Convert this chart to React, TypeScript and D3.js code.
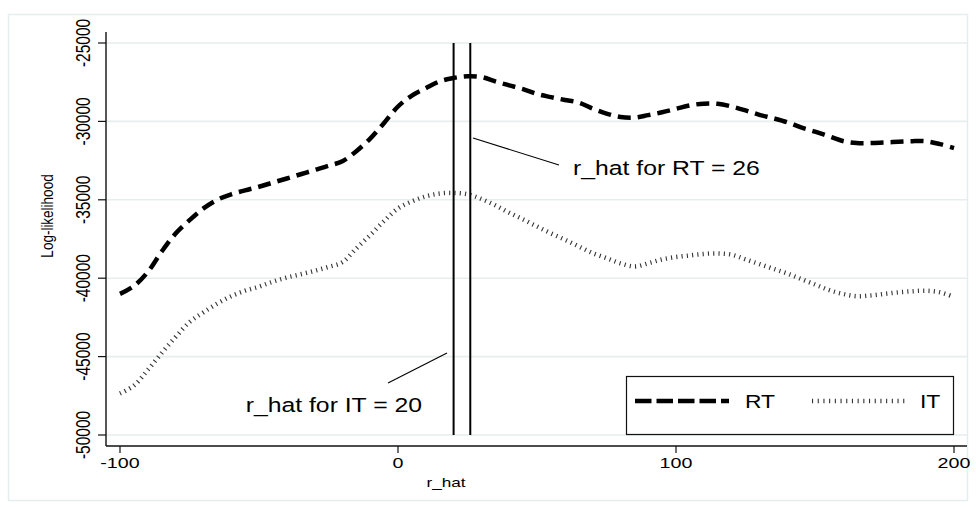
import * as d3 from "d3";
import { useEffect, useRef } from "react";

// r_hat grid and the two log-likelihood profiles
const rHat = [
  -100, -95, -90, -85, -80, -75, -70, -65, -60, -55, -50, -45, -40, -35, -30, -25, -20, -15, -10, -5,
  0, 5, 10, 15, 20, 25, 30, 35, 40, 45, 50, 55, 60, 65, 70, 75, 80, 85, 90, 95,
  100, 105, 110, 115, 120, 125, 130, 135, 140, 145, 150, 155, 160, 165, 170, 175, 180, 185, 190, 195, 200,
];

const rtLL = [
  -41000, -40500, -39600, -38300, -37150, -36300, -35550, -35000, -34650, -34400,
  -34170, -33900, -33640, -33370, -33100, -32830, -32540, -31900, -31100, -30100,
  -29050, -28350, -27880, -27450, -27230, -27120, -27170, -27450, -27700, -27940,
  -28250, -28450, -28630, -28800, -29180, -29500, -29720, -29760, -29600, -29420,
  -29200, -28980, -28870, -28880, -29050, -29300, -29580, -29800, -30050, -30380,
  -30650, -30950, -31250, -31380, -31380, -31340, -31300, -31260, -31270, -31450,
  -31700,
];

const itLL = [
  -47350, -46850, -45850, -44770, -43750, -42800, -42180, -41620, -41150, -40800,
  -40540, -40220, -39960, -39750, -39530, -39280, -38980, -38100, -37250, -36350,
  -35550, -35100, -34780, -34600, -34560, -34650, -34950, -35350, -35820, -36250,
  -36700, -37140, -37540, -37970, -38400, -38720, -39050, -39250, -39050, -38800,
  -38650, -38550, -38450, -38420, -38500, -38800, -39100, -39400, -39700, -40050,
  -40400, -40750, -41000, -41150, -41100, -41000, -40900, -40830, -40800, -40900,
  -41200,
];

const xTicks = [-100, 0, 100, 200];
const yTicks = [-25000, -30000, -35000, -40000, -45000, -50000];

const rtOpt = 26;
const itOpt = 20;

const FONT = "'Liberation Sans', Arial, Helvetica, sans-serif";
const SX = 1.27; // the picture is stretched sideways

export default function App() {
  const svgRef = useRef<SVGSVGElement>(null);

  useEffect(() => {
    const svg = d3.select(svgRef.current);
    svg.selectAll("*").remove();

    const width = 976;
    const height = 507;
    const plot = { left: 106, right: 967, top: 32, bottom: 446 };

    svg.attr("width", width).attr("height", height);

    const x = d3.scaleLinear().domain([-100, 200]).range([120, 954]);
    const y = d3.scaleLinear().domain([-50000, -25000]).range([435, 43]);

    const stretchText = (sel: any, tx: number, ty: number, rotate = false) =>
      sel.attr("transform", `translate(${tx},${ty}) scale(${SX},1)` + (rotate ? " rotate(-90)" : ""));

    // outer graph region border
    svg
      .append("rect")
      .attr("x", 8.5)
      .attr("y", 14.5)
      .attr("width", 959)
      .attr("height", 486)
      .attr("fill", "white")
      .attr("stroke", "#e5eeef")
      .attr("stroke-width", 1.5);

    // gridlines
    svg
      .append("g")
      .selectAll("line")
      .data(yTicks)
      .enter()
      .append("line")
      .attr("x1", plot.left)
      .attr("x2", plot.right)
      .attr("y1", d => y(d))
      .attr("y2", d => y(d))
      .attr("stroke", "#e6eeee")
      .attr("stroke-width", 1.6);

    // axes lines + ticks
    svg
      .append("line")
      .attr("x1", plot.left)
      .attr("x2", plot.left)
      .attr("y1", plot.top)
      .attr("y2", plot.bottom)
      .attr("stroke", "#111")
      .attr("stroke-width", 1.4);
    svg
      .append("line")
      .attr("x1", plot.left)
      .attr("x2", plot.right)
      .attr("y1", plot.bottom)
      .attr("y2", plot.bottom)
      .attr("stroke", "#111")
      .attr("stroke-width", 1.4);

    svg
      .append("g")
      .selectAll("line")
      .data(yTicks)
      .enter()
      .append("line")
      .attr("x1", plot.left - 8)
      .attr("x2", plot.left)
      .attr("y1", d => y(d))
      .attr("y2", d => y(d))
      .attr("stroke", "#111")
      .attr("stroke-width", 1.2);

    svg
      .append("g")
      .selectAll("line")
      .data(xTicks)
      .enter()
      .append("line")
      .attr("x1", d => x(d))
      .attr("x2", d => x(d))
      .attr("y1", plot.bottom)
      .attr("y2", plot.bottom + 7)
      .attr("stroke", "#111")
      .attr("stroke-width", 1.2);

    // tick labels (plain hyphen minus, as in Stata)
    svg
      .append("g")
      .selectAll("text")
      .data(yTicks)
      .enter()
      .append("text")
      .each(function (d) {
        stretchText(d3.select(this), 90, y(d), true);
      })
      .attr("text-anchor", "middle")
      .style("font-family", FONT)
      .style("font-size", "15.5px")
      .text(d => String(d));

    svg
      .append("g")
      .selectAll("text")
      .data(xTicks)
      .enter()
      .append("text")
      .each(function (d) {
        stretchText(d3.select(this), x(d), 467.5);
      })
      .attr("text-anchor", "middle")
      .style("font-family", FONT)
      .style("font-size", "15.5px")
      .text(d => String(d));

    // axis titles
    stretchText(svg.append("text"), 53, 216, true)
      .attr("text-anchor", "middle")
      .style("font-family", FONT)
      .style("font-size", "13.5px")
      .text("Log-likelihood");

    stretchText(svg.append("text"), 446, 487)
      .attr("text-anchor", "middle")
      .style("font-family", FONT)
      .style("font-size", "13.5px")
      .text("r_hat");

    // curves
    const line = d3
      .line<number>()
      .x((_, i) => x(rHat[i]))
      .y(d => y(d))
      .curve(d3.curveCatmullRom.alpha(0.5));

    svg
      .append("path")
      .attr("d", line(itLL))
      .attr("fill", "none")
      .attr("stroke", "#333")
      .attr("stroke-width", 4.5)
      .attr("stroke-dasharray", "1.1 4.2");

    svg
      .append("path")
      .attr("d", line(rtLL))
      .attr("fill", "none")
      .attr("stroke", "#000")
      .attr("stroke-width", 4.5)
      .attr("stroke-dasharray", "13 7");

    // optimum reference lines
    svg
      .append("g")
      .selectAll("line")
      .data([itOpt, rtOpt])
      .enter()
      .append("line")
      .attr("x1", d => x(d))
      .attr("x2", d => x(d))
      .attr("y1", y(-25000))
      .attr("y2", y(-50000))
      .attr("stroke", "#000")
      .attr("stroke-width", 2);

    // annotations
    svg
      .append("line")
      .attr("x1", 473)
      .attr("y1", 138)
      .attr("x2", 559)
      .attr("y2", 165)
      .attr("stroke", "#000")
      .attr("stroke-width", 1.1);
    stretchText(svg.append("text"), 573, 175)
      .style("font-family", FONT)
      .style("font-size", "19.5px")
      .text(`r_hat for RT = ${rtOpt}`);

    svg
      .append("line")
      .attr("x1", 447)
      .attr("y1", 353)
      .attr("x2", 388)
      .attr("y2", 383)
      .attr("stroke", "#000")
      .attr("stroke-width", 1.1);
    stretchText(svg.append("text"), 422, 412)
      .attr("text-anchor", "end")
      .style("font-family", FONT)
      .style("font-size", "19.5px")
      .text(`r_hat for IT = ${itOpt}`);

    // legend
    const lg = svg.append("g");
    lg.append("rect")
      .attr("x", 626.5)
      .attr("y", 376.5)
      .attr("width", 327)
      .attr("height", 58)
      .attr("fill", "white")
      .attr("stroke", "#111")
      .attr("stroke-width", 1.2);
    lg.append("line")
      .attr("x1", 635)
      .attr("x2", 729)
      .attr("y1", 401)
      .attr("y2", 401)
      .attr("stroke", "#000")
      .attr("stroke-width", 4.5)
      .attr("stroke-dasharray", "16.5 5");
    stretchText(lg.append("text"), 745, 407.5)
      .style("font-family", FONT)
      .style("font-size", "18px")
      .text("RT");
    lg.append("line")
      .attr("x1", 812)
      .attr("x2", 906)
      .attr("y1", 401)
      .attr("y2", 401)
      .attr("stroke", "#333")
      .attr("stroke-width", 4.5)
      .attr("stroke-dasharray", "1.1 4.6");
    stretchText(lg.append("text"), 920, 407.5)
      .style("font-family", FONT)
      .style("font-size", "18px")
      .text("IT");
  }, []);

  return <svg ref={svgRef} style={{ position: "absolute", left: 0, top: 0 }} />;
}
